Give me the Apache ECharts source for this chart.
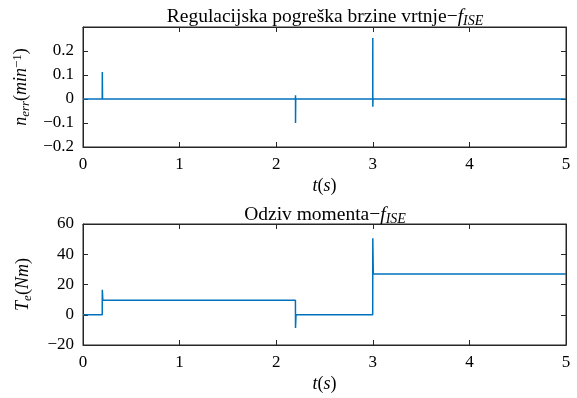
<!DOCTYPE html>
<html>
<head>
<meta charset="utf-8">
<script src="https://cdn.jsdelivr.net/npm/echarts@6/dist/echarts.min.js"></script>
<style>
  html, body { margin: 0; padding: 0; background: #fff; }
  #chart { width: 577px; height: 398px; }
</style>
</head>
<body>
<div id="chart"></div>
<script>
// Speed regulation error (top) — time in s, error in min^-1
const tErr = [0, 0.199, 0.2, 0.2, 0.202, 2.199, 2.2, 2.2, 2.201, 2.202, 2.999, 3.0, 3.0, 3.001, 3.002, 5];
const nErr = [0, 0, 0.112, 0.112, 0, 0, 0.016, -0.1, -0.1, 0, 0, 0.254, -0.032, -0.032, 0, 0];

// Torque response (bottom) — time in s, torque in Nm
const tTorque = [0, 0.199, 0.2, 0.2, 0.205, 2.199, 2.2, 2.2, 2.205, 2.999, 3.0, 3.0, 3.005, 5];
const torque  = [0, 0, 0, 16.5, 9.7, 9.6, 9.6, -8.8, 0, 0, 0, 50.5, 27, 27];

// Axis ticks
const xTicks = [0, 1, 2, 3, 4, 5];
const yTicksErr = [-0.2, -0.1, 0, 0.1, 0.2];
const yTicksTorque = [-20, 0, 20, 40, 60];

const LINE = '#0072BD';
const AX = '#262626';
const FONT = '"Liberation Serif", "DejaVu Serif", serif';
const FS = 17;
const FN = 18;
const FT = 19.5;

function fmt(v) {
  if (Math.abs(v) < 1e-9) return '0';
  return String(v).replace('-', '\u2212');
}
function pairs(xs, ys) { return xs.map((x, i) => [x, ys[i]]); }

function richSet(fs) {
  const s = Math.round(fs * 0.7);
  const off = Math.round(fs * 0.45);
  return {
    n: { fontFamily: FONT, fontSize: fs, fontWeight: 'normal', color: '#000' },
    i: { fontFamily: FONT, fontSize: fs, fontWeight: 'normal', fontStyle: 'italic', color: '#000' },
    sub: { fontFamily: FONT, fontSize: s, fontWeight: 'normal', fontStyle: 'italic', color: '#000', padding: [off, 0, 0, 0] },
    supn: { fontFamily: FONT, fontSize: s, fontWeight: 'normal', color: '#000', padding: [0, 0, off, 0] }
  };
}
const richN = richSet(FN);
const richT = richSet(FT);

const grids = [
  { left: 83, top: 27, width: 483, height: 120 },
  { left: 83, top: 224, width: 483, height: 121 }
];

function xAxes(gi) {
  const base = {
    type: 'value', gridIndex: gi, min: 0, max: 5, interval: 1,
    splitLine: { show: false },
    axisLine: { show: true, onZero: false, lineStyle: { color: AX, width: 1 } },
    axisTick: { show: true, inside: true, length: 5, lineStyle: { color: AX } }
  };
  return [
    Object.assign({}, base, {
      position: 'bottom',
      axisLabel: { fontFamily: FONT, fontSize: FS, color: '#000', margin: 9,
        customValues: xTicks, formatter: fmt },
      name: '{i|t}{n|(}{i|s}{n|)}', nameLocation: 'middle', nameGap: 30,
      nameTextStyle: { rich: richN }
    }),
    Object.assign({}, base, { position: 'top', axisLabel: { show: false } })
  ];
}

function yAxes(gi, min, max, interval, ticks, name, gap) {
  const base = {
    type: 'value', gridIndex: gi, min: min, max: max, interval: interval,
    splitLine: { show: false },
    axisLine: { show: true, onZero: false, lineStyle: { color: AX, width: 1 } },
    axisTick: { show: true, inside: true, length: 5, lineStyle: { color: AX }, customValues: ticks }
  };
  return [
    Object.assign({}, base, {
      position: 'left',
      axisLabel: { fontFamily: FONT, fontSize: FS, color: '#000', margin: 9,
        customValues: ticks, formatter: fmt },
      name: name, nameLocation: 'middle', nameRotate: 90, nameGap: gap,
      nameTextStyle: { rich: richN }
    }),
    Object.assign({}, base, { position: 'right', axisLabel: { show: false } })
  ];
}

const xs = xAxes(0).concat(xAxes(1));
const ys = yAxes(0, -0.2, 0.3, 0.1, yTicksErr, '{i|n}{sub|err}{n|(}{i|min}{supn|\u2212}{supn|1}{n|)}', 50)
  .concat(yAxes(1, -20, 60, 20, yTicksTorque, '{i|T}{sub|e}{n|(}{i|Nm}{n|)}', 49));

const option = {
  backgroundColor: '#fff',
  animation: false,
  title: [
    { text: '{n|Regulacijska pogreška brzine vrtnje\u2212}{i|f}{sub|ISE}', left: 320, top: 0,
      textAlign: 'center', textStyle: { rich: richT, fontWeight: 'normal' } },
    { text: '{n|Odziv momenta\u2212}{i|f}{sub|ISE}', left: 320, top: 198,
      textAlign: 'center', textStyle: { rich: richT, fontWeight: 'normal' } }
  ],
  grid: grids.map(g => Object.assign({ show: true, borderColor: AX, borderWidth: 1, backgroundColor: 'transparent' }, g)),
  xAxis: xs,
  yAxis: ys,
  series: [
    { type: 'line', xAxisIndex: 0, yAxisIndex: 0, data: pairs(tErr, nErr),
      showSymbol: false, symbol: 'none', lineStyle: { color: LINE, width: 1.5 } },
    { type: 'line', xAxisIndex: 2, yAxisIndex: 2, data: pairs(tTorque, torque),
      showSymbol: false, symbol: 'none', lineStyle: { color: LINE, width: 1.5 } }
  ]
};

echarts.init(document.getElementById('chart'), null, { renderer: 'canvas' }).setOption(option);
</script>
</body>
</html>
